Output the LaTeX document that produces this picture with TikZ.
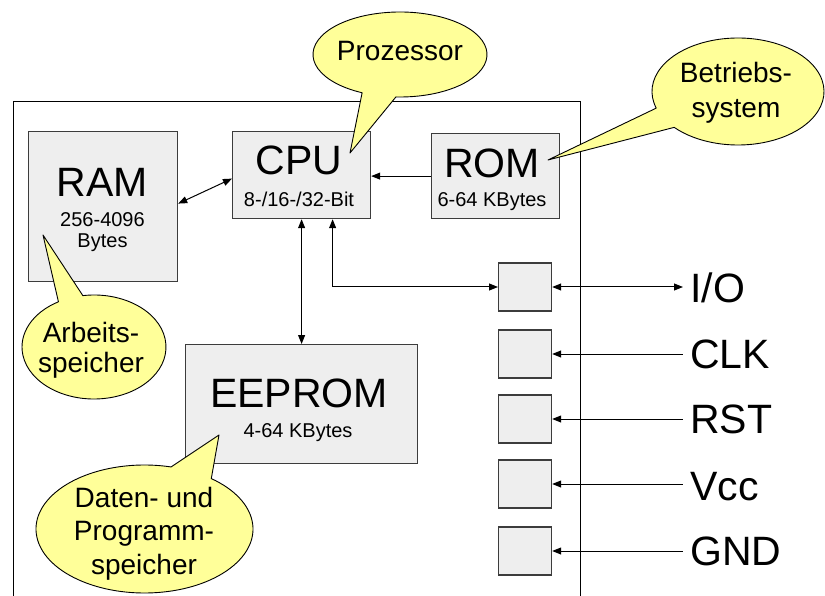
\documentclass[tikz,border=0pt]{standalone}
\usepackage{fontspec}
\setmainfont{Liberation Sans}
\usetikzlibrary{arrows.meta}
\definecolor{boxfill}{RGB}{238,238,238}
\definecolor{boxline}{RGB}{60,60,60}
\definecolor{callfill}{RGB}{255,255,153}
\begin{document}
\begin{tikzpicture}[x=1pt,y=-1pt,
  >={Triangle[length=9pt,width=7pt]},
  blk/.style={draw=boxline,fill=boxfill,line width=1.2pt,inner sep=0pt,anchor=north west},
  big/.style={font=\fontsize{41}{41}\selectfont,inner sep=0pt,anchor=base},
  small/.style={font=\fontsize{20}{20}\selectfont,inner sep=0pt,anchor=base},
  pinlbl/.style={font=\fontsize{41}{41}\selectfont,inner sep=0pt,anchor=base west},
  calltxt/.style={font=\fontsize{28}{32}\selectfont,align=center,inner sep=0pt,anchor=base},
  call/.style={draw=black,fill=callfill,line width=0.9pt,line join=round},
  conn/.style={line width=1pt,draw=black},
  frame/.style={line width=1pt,draw=black}]
\useasboundingbox (0,0) rectangle (825,596);

% chip outline (open at the bottom edge)
\draw[frame] (13,600) -- (13,102) -- (580,102) -- (580,600);

% blocks
\node[blk,minimum width=149pt,minimum height=150pt] (ram) at (28,131) {};
\node[blk,minimum width=138pt,minimum height=87pt] (cpu) at (232,131) {};
\node[blk,minimum width=128pt,minimum height=85pt] (rom) at (431,133) {};
\node[blk,minimum width=232pt,minimum height=119pt] (eep) at (185,344) {};

% pins
\node[blk,minimum width=53pt,minimum height=48pt,anchor=west] (pio)  at (498,287) {};
\node[blk,minimum width=53pt,minimum height=48pt,anchor=west] (pclk) at (498,354) {};
\node[blk,minimum width=53pt,minimum height=48pt,anchor=west] (prst) at (498,419) {};
\node[blk,minimum width=53pt,minimum height=48pt,anchor=west] (pvcc) at (498,484) {};
\node[blk,minimum width=53pt,minimum height=48pt,anchor=west] (pgnd) at (498,551) {};

% block texts
\node[big] (tram) at (102.5,197) {RAM};
\node[small] (tram2) at (102.5,227) {256-4096};
\node[small] (tram3) at (102.5,248) {Bytes};
\node[big] (tcpu) at (299,175) {CPU};
\node[small] (tcpu2) at (299,207) {8-/16-/32-Bit};
\node[big] (trom) at (492,178) {ROM};
\node[small] (trom2) at (492,207) {6-64 KBytes};
\node[big] (teep) at (299,407) {EEPROM};
\node[small] (teep2) at (298,437) {4-64 KBytes};

% pin labels
\coordinate (eio)  at (683,287);
\coordinate (eclk) at (683,354);
\coordinate (erst) at (683,419);
\coordinate (evcc) at (683,484);
\coordinate (egnd) at (683,551);
\node[pinlbl] (lio)  at (690,302) {I/O};
\node[pinlbl] (lclk) at (690,368) {CLK};
\node[pinlbl] (lrst) at (690,433) {RST};
\node[pinlbl] (lvcc) at (690,500) {Vcc};
\node[pinlbl] (lgnd) at (690,565) {GND};

% connectors
\draw[conn,<->] ([yshift=3pt]ram.east) -- ([yshift=-3.5pt]cpu.west);
\draw[conn,->] (rom.west) -- (rom.west -| cpu.east);
\draw[conn,<->] (cpu.south) -- (eep.north);
\draw[conn,<->] ([xshift=31pt]cpu.south) |- (pio.west);
\draw[conn,<->] (pio.east) -- (eio);
\draw[conn,<-] (pclk.east) -- (eclk);
\draw[conn,<-] (prst.east) -- (erst);
\draw[conn,<-] (pvcc.east) -- (evcc);
\draw[conn,<-] (pgnd.east) -- (egnd);

% callouts
\draw[call] (400,54.5) ++(115.8:87 and 42.5)
  arc[start angle=115.8,end angle=452.7,x radius=87,y radius=42.5] -- (350,153) -- cycle;
\node[calltxt] (cproz) at (400,61) {Prozessor};

\draw[call] (738,91.5) ++(161.9:86 and 53.5)
  arc[start angle=161.9,end angle=497.9,x radius=86,y radius=53.5] -- (548,160) -- cycle;
\node[calltxt,font=\fontsize{28}{35}\selectfont] (cbet) at (736,118) {Betriebs-\\system};

\draw[call] (94,347) ++(261.1:72 and 52)
  arc[start angle=261.1,end angle=600.4,x radius=72,y radius=52] -- (43,235) -- cycle;
\node[calltxt,font=\fontsize{28}{30}\selectfont] (carb) at (91,372) {Arbeits-\\speicher};

\draw[call] (144.5,529) ++(308:108.5 and 64)
  arc[start angle=308,end angle=644.2,x radius=108.5,y radius=64] -- (219,435) -- cycle;
\node[calltxt,font=\fontsize{28}{33.5}\selectfont] (cdat) at (144,574) {Daten- und\\Programm-\\speicher};
\end{tikzpicture}
\end{document}
